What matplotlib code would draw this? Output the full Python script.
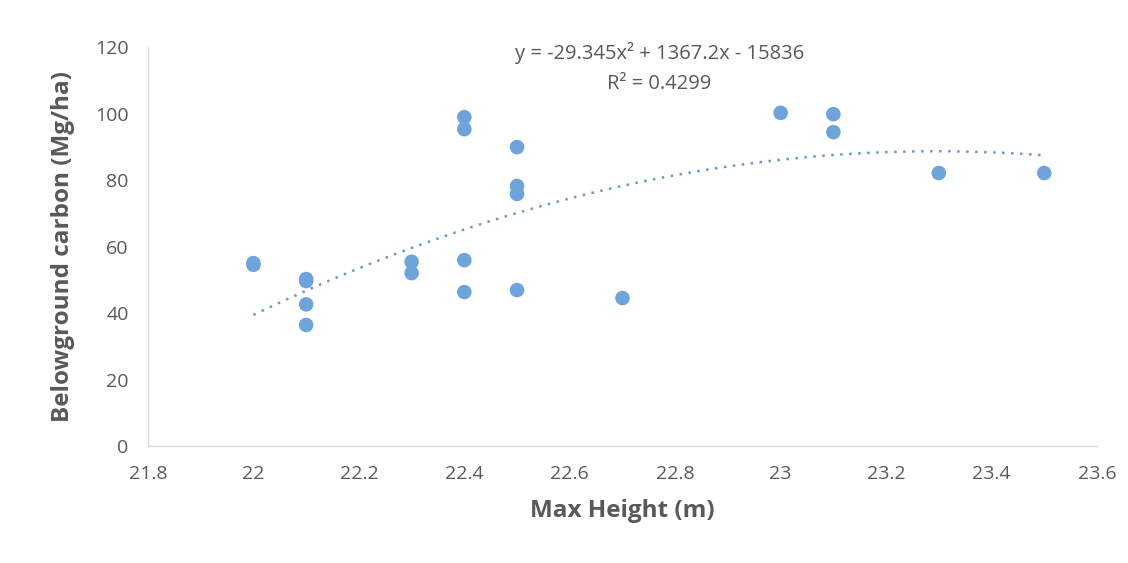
import numpy as np
import matplotlib
matplotlib.use("Agg")
import matplotlib.pyplot as plt

# Data
max_height = [22.0, 22.0, 22.1, 22.1, 22.1, 22.1, 22.3, 22.3,
              22.4, 22.4, 22.4, 22.4, 22.5, 22.5, 22.5, 22.5,
              22.7, 23.0, 23.1, 23.1, 23.3, 23.5]
belowground_carbon = [54.5, 55.0, 50.2, 49.6, 42.6, 36.4, 55.4, 52.0,
                      98.9, 95.3, 55.9, 46.3, 89.9, 78.2, 75.8, 46.9,
                      44.5, 100.2, 99.8, 94.4, 82.1, 82.1]

# Polynomial trendline coefficients (as shown on the chart)
trend_coeffs = [-29.345, 1367.2, -15836]
trend_r2 = 0.4299

x_ticks = [21.8, 22, 22.2, 22.4, 22.6, 22.8, 23, 23.2, 23.4, 23.6]
x_tick_labels = ["21.8", "22", "22.2", "22.4", "22.6", "22.8", "23", "23.2", "23.4", "23.6"]
y_ticks = [0, 20, 40, 60, 80, 100, 120]

plt.rcParams['font.family'] = ['Open Sans', 'DejaVu Sans']

fig = plt.figure(figsize=(11.28, 5.63), dpi=100)
ax = fig.add_axes([0.1312, 0.2078, 0.9725 - 0.1312, 0.9165 - 0.2078])

ax.scatter(max_height, belowground_carbon, s=110, color="#6fa3dc",
           edgecolors="none", zorder=3)

xt = np.linspace(min(max_height), max(max_height), 200)
yt = np.polyval(trend_coeffs, xt)
ax.plot(xt, yt, color="#6a97c6", linestyle=(0, (1, 2.6)), linewidth=1.8, zorder=2)

ax.set_xlim(21.8, 23.6)
ax.set_ylim(0, 120)
ax.set_xticks(x_ticks)
ax.set_xticklabels(x_tick_labels)
ax.set_yticks(y_ticks)

for s in ["top", "right"]:
    ax.spines[s].set_visible(False)
for s in ["left", "bottom"]:
    ax.spines[s].set_color("#d9d9d9")
    ax.spines[s].set_linewidth(1.0)

ax.tick_params(axis="both", length=0, labelsize=14, labelcolor="#595959")
ax.tick_params(axis="x", pad=14)
ax.tick_params(axis="y", pad=14)

ax.set_xlabel("Max Height (m)", fontsize=17.5, fontweight="bold", color="#595959", labelpad=11)
ax.set_ylabel("Belowground carbon (Mg/ha)", fontsize=17.5, fontweight="bold", color="#595959", labelpad=14)

eq = "y = {:.3f}x² + {:.1f}x - {:.0f}".format(trend_coeffs[0], trend_coeffs[1], -trend_coeffs[2])
ax.text(22.77, 118.3, eq, fontsize=14.5, color="#595959", ha="center", va="center")
ax.text(22.77, 109.0, "R² = {:.4f}".format(trend_r2), fontsize=14.5, color="#595959",
        ha="center", va="center")

fig.savefig("out.png", dpi=100, facecolor="white")
